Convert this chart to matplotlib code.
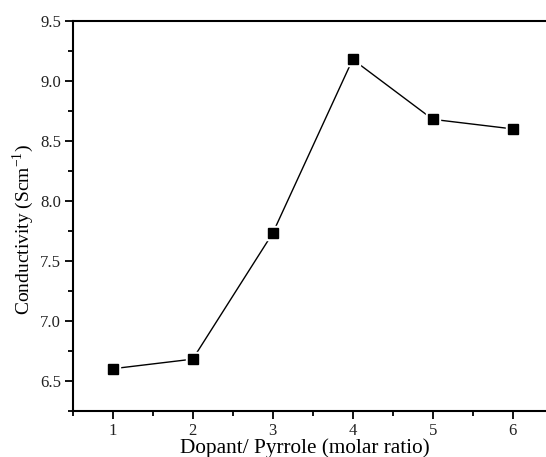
import matplotlib
matplotlib.use("Agg")
import matplotlib.pyplot as plt
from matplotlib.ticker import MultipleLocator

ratio = [1, 2, 3, 4, 5, 6]
conductivity = [6.60, 6.68, 7.73, 9.18, 8.68, 8.60]

plt.rcParams['font.family'] = ['Liberation Serif', 'DejaVu Serif']
plt.rcParams['mathtext.fontset'] = 'custom'
plt.rcParams['mathtext.rm'] = 'Liberation Serif'

W, H = 546, 457
fig = plt.figure(figsize=(W/100, H/100), dpi=100)
left, right, top, bottom = 72.7, 552.7, 21, 410.7
ax = fig.add_axes([left/W, 1-bottom/H, (right-left)/W, (bottom-top)/H])

ax.plot(ratio, conductivity, color='black', lw=1.0, zorder=2)
ax.plot(ratio, conductivity, ls='none', marker='s', ms=10.5, mfc='white', mec='white', zorder=3)
ax.plot(ratio, conductivity, ls='none', marker='s', ms=7.2, mfc='black', mec='black', zorder=4)

ax.set_xlim(0.5, 6.5)
ax.set_ylim(6.25, 9.5)
ax.xaxis.set_major_locator(MultipleLocator(1))
ax.xaxis.set_minor_locator(MultipleLocator(0.5))
ax.yaxis.set_major_locator(MultipleLocator(0.5))
ax.yaxis.set_minor_locator(MultipleLocator(0.25))
ax.yaxis.set_major_formatter(matplotlib.ticker.FormatStrFormatter('%.1f'))

for s in ax.spines.values():
    s.set_linewidth(1.5)
ax.spines['right'].set_visible(False)
ax.tick_params(which='major', direction='out', length=6, width=1.3, labelsize=12, pad=2.5,
               labelcolor='#222222')
ax.tick_params(which='minor', direction='out', length=3.5, width=1.3)

ax.set_xlabel('Dopant/ Pyrrole (molar ratio)', fontsize=15.3)
ax.xaxis.set_label_coords((305 - left) / (right - left), -(438.5 - bottom) / (bottom - top))
ax.set_ylabel('Conductivity (Scm$^{\\mathregular{-1}}$)', fontsize=14)
ax.yaxis.set_label_coords(-(left - 36) / (right - left), (bottom - 230) / (bottom - top))

fig.savefig('out.png', dpi=100)
